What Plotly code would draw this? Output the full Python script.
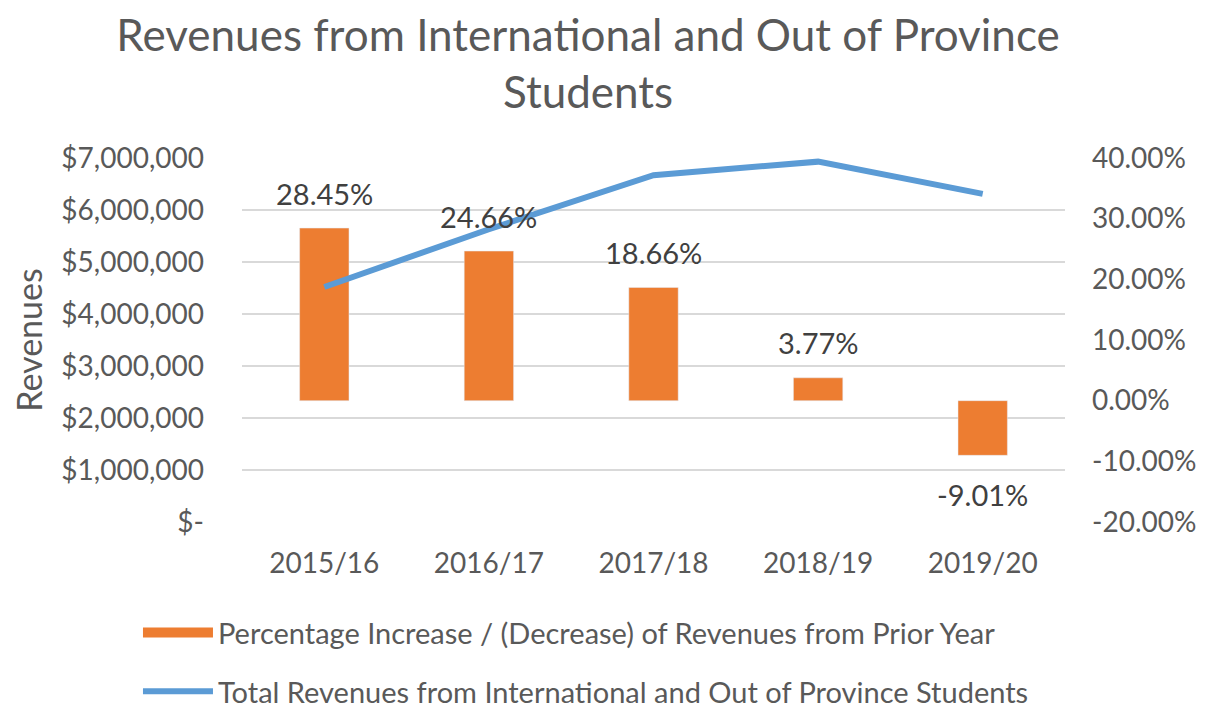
import plotly.graph_objects as go

years = ["2015/16", "2016/17", "2017/18", "2018/19", "2019/20"]
pct_change = [0.2845, 0.2466, 0.1866, 0.0377, -0.0901]
pct_labels = ["28.45%", "24.66%", "18.66%", "3.77%", "-9.01%"]
revenues = [4520000, 5630000, 6670000, 6930000, 6310000]

rev_ticks = [0, 1000000, 2000000, 3000000, 4000000, 5000000, 6000000, 7000000]
rev_ticktext = ["$-", "$1,000,000", "$2,000,000", "$3,000,000", "$4,000,000",
                "$5,000,000", "$6,000,000", "$7,000,000"]
pct_ticks = [-0.2, -0.1, 0, 0.1, 0.2, 0.3, 0.4]
pct_ticktext = ["-20.00%", "-10.00%", "0.00%", "10.00%", "20.00%", "30.00%", "40.00%"]

bar_name = "Percentage Increase / (Decrease) of Revenues from Prior Year"
line_name = "Total Revenues from International and Out of Province Students"

orange = "#ed7d31"
blue = "#5b9bd5"
grey = "#595959"
font = "Lato"

fig = go.Figure()

fig.add_trace(go.Bar(
    name=bar_name, x=years, y=pct_change, yaxis="y",
    marker=dict(color=orange), width=0.3, showlegend=False))

# legend entry for the bars, drawn as a wide block like the original
fig.add_trace(go.Scatter(
    name=bar_name, x=[None], y=[None], yaxis="y", mode="lines",
    line=dict(color=orange, width=18), legendgroup="a"))

fig.add_trace(go.Scatter(
    name=line_name, x=years, y=revenues, yaxis="y2", mode="lines",
    line=dict(color=blue, width=6), legendgroup="b"))

# data labels, above positive bars and below the negative one
for yr, v, lab in zip(years, pct_change, pct_labels):
    fig.add_annotation(x=yr, y=v, xref="x", yref="y", text=lab, showarrow=False,
                       yshift=35 if v >= 0 else -39,
                       font=dict(family=font, size=29, color="#404040"))

# page body keeps its 8px default margin, so the figure is 8px smaller
fig.update_layout(
    width=1201, height=700,
    margin=dict(l=234, r=144, t=150, b=186),
    paper_bgcolor="white", plot_bgcolor="white",
    font=dict(family=font, color=grey),
    title=dict(text="Revenues from International and Out of Province<br>Students",
               x=0.483, xanchor="center", yref="container", y=0.939, yanchor="middle",
               font=dict(family=font, size=44, color=grey)),
    xaxis=dict(showgrid=False, showline=False, ticks="",
               tickfont=dict(size=28, color=grey), ticklabelstandoff=22),
    yaxis=dict(side="right", range=[-0.2, 0.4], tickvals=pct_ticks, ticktext=pct_ticktext,
               showgrid=False, zeroline=False, ticks="",
               tickfont=dict(size=28, color=grey), ticklabelstandoff=26),
    yaxis2=dict(side="left", overlaying="y", range=[0, 7000000],
                tickvals=rev_ticks, ticktext=rev_ticktext,
                showgrid=True, gridcolor="#d9d9d9", gridwidth=1.5, zeroline=False,
                ticks="", tickfont=dict(size=28, color=grey), ticklabelstandoff=37,
                title=dict(text="Revenues", font=dict(size=34, color=grey), standoff=17)),
    legend=dict(orientation="v", x=-0.1264, xanchor="left",
                yref="container", y=0.144, yanchor="top",
                font=dict(family=font, size=29, color=grey), itemwidth=70,
                traceorder="grouped", tracegroupgap=18, bgcolor="rgba(0,0,0,0)"),
    showlegend=True,
)

fig.write_html("out.html")
